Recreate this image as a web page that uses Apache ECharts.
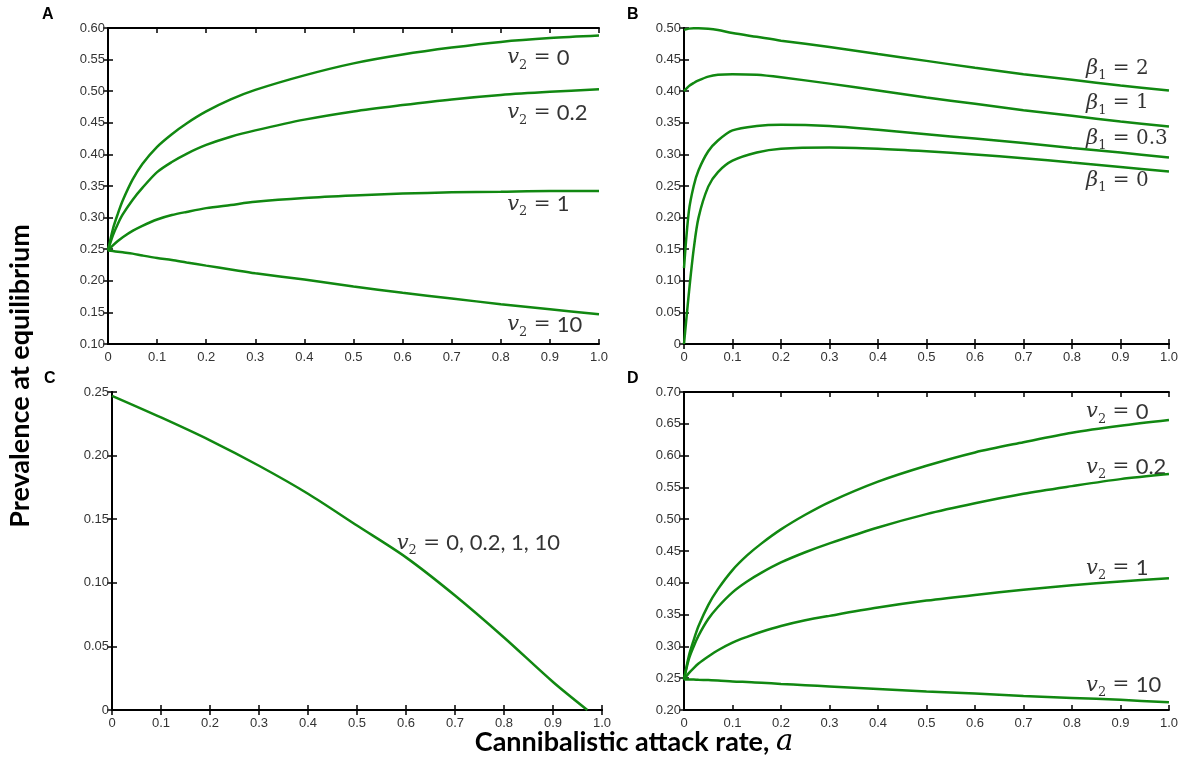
<!DOCTYPE html>
<html>
<head>
<meta charset="utf-8">
<script src="https://cdn.jsdelivr.net/npm/echarts@6/dist/echarts.min.js"></script>
<style>
  html, body { margin: 0; background: #fff; }
  #chart { width: 1181px; height: 762px; }
</style>
</head>
<body>
<div id="chart"></div>
<script>
// attack rate sample points
const aGrid = [0, 0.01, 0.02, 0.03, 0.05, 0.07, 0.1, 0.13, 0.16, 0.2, 0.25, 0.3, 0.4, 0.5, 0.6, 0.7, 0.8, 0.9, 1.0]
const aFine = [0, 0.01, 0.02, 0.03, 0.05, 0.07, 0.1, 0.15, 0.2, 0.3, 0.4, 0.5, 0.6, 0.7, 0.8, 0.9, 1.0]
const aPanelC = [0, 0.1, 0.2, 0.3, 0.4, 0.5, 0.6, 0.7, 0.8, 0.9, 0.97]

// panel A
const aV0 = [0.248, 0.282, 0.306, 0.327, 0.36, 0.385, 0.412, 0.432, 0.449, 0.468, 0.487, 0.502, 0.525, 0.544, 0.558, 0.569, 0.578, 0.584, 0.588]
const aV02 = [0.248, 0.272, 0.29, 0.305, 0.328, 0.347, 0.372, 0.388, 0.401, 0.415, 0.428, 0.438, 0.455, 0.468, 0.478, 0.487, 0.494, 0.499, 0.503]
const aV1 = [0.248, 0.256, 0.263, 0.269, 0.279, 0.287, 0.297, 0.304, 0.309, 0.315, 0.320, 0.325, 0.331, 0.335, 0.338, 0.340, 0.341, 0.342, 0.342]
const aV10 = [0.248, 0.247, 0.246, 0.245, 0.243, 0.240, 0.236, 0.233, 0.229, 0.224, 0.218, 0.212, 0.202, 0.191, 0.181, 0.172, 0.163, 0.155, 0.147]

// panel B
const bB2 = [0.497, 0.499, 0.4995, 0.4995, 0.499, 0.497, 0.492, 0.486, 0.480, 0.470, 0.459, 0.448, 0.437, 0.427, 0.418, 0.409, 0.401]
const bB1 = [0.400, 0.408, 0.413, 0.417, 0.423, 0.426, 0.427, 0.426, 0.422, 0.412, 0.401, 0.390, 0.380, 0.370, 0.361, 0.352, 0.344]
const bB03 = [0.12, 0.21, 0.25, 0.275, 0.305, 0.322, 0.338, 0.345, 0.347, 0.345, 0.339, 0.332, 0.325, 0.318, 0.310, 0.303, 0.295]
const bB0 = [0, 0.08, 0.15, 0.20, 0.249, 0.272, 0.29, 0.303, 0.309, 0.311, 0.309, 0.305, 0.300, 0.294, 0.287, 0.280, 0.273]

// panel C (all v2 values fall on one curve)
const cAll = [0.247, 0.230, 0.212, 0.192, 0.170, 0.145, 0.120, 0.090, 0.057, 0.022, 0]

// panel D
const dV0 = [0.248, 0.285, 0.31, 0.332, 0.365, 0.39, 0.42, 0.443, 0.462, 0.484, 0.507, 0.527, 0.559, 0.584, 0.605, 0.621, 0.636, 0.647, 0.656]
const dV02 = [0.248, 0.28, 0.30, 0.317, 0.343, 0.362, 0.385, 0.402, 0.416, 0.432, 0.448, 0.462, 0.487, 0.508, 0.525, 0.540, 0.552, 0.563, 0.571]
const dV1 = [0.248, 0.258, 0.266, 0.273, 0.284, 0.294, 0.306, 0.315, 0.323, 0.332, 0.341, 0.348, 0.361, 0.372, 0.381, 0.389, 0.396, 0.402, 0.407]
const dV10 = [0.248, 0.248, 0.2478, 0.2475, 0.247, 0.2465, 0.245, 0.244, 0.243, 0.241, 0.239, 0.237, 0.233, 0.229, 0.226, 0.222, 0.219, 0.216, 0.212]

// y ranges per panel: [min, max, step]
const yRanges = [[0.10, 0.60, 0.05], [0, 0.50, 0.05], [0, 0.25, 0.05], [0.20, 0.70, 0.05]]

// curve labels: [panel, x, y, symbol, value]
const curveLabels = [
  [0, 0.812, 0.553, 'v', '0'], [0, 0.812, 0.466, 'v', '0.2'], [0, 0.812, 0.321, 'v', '1'], [0, 0.812, 0.130, 'v', '10'],
  [1, 0.828, 0.436, 'b', '2'], [1, 0.828, 0.381, 'b', '1'], [1, 0.828, 0.325, 'b', '0.3'], [1, 0.828, 0.259, 'b', '0'],
  [2, 0.58, 0.131, 'v', '0, 0.2, 1, 10'],
  [3, 0.828, 0.669, 'v', '0'], [3, 0.828, 0.582, 'v', '0.2'], [3, 0.828, 0.423, 'v', '1'], [3, 0.828, 0.239, 'v', '10']
]

const grids = [
  { left: 108, top: 28, width: 491, height: 316 },
  { left: 684, top: 28, width: 490, height: 316 },
  { left: 112, top: 392, width: 490, height: 318 },
  { left: 684, top: 392, width: 490, height: 318 }
]

const GREEN = '#118811'
const axisLine = { show: true, lineStyle: { color: '#000', width: 2 } }
const tick = { show: true, inside: true, length: 5, lineStyle: { color: '#000', width: 1.5 } }
const tickLabel = { fontFamily: 'Liberation Sans', fontSize: 13, color: '#333' }

const xAxis = []
const yAxis = []
grids.forEach((g, i) => {
  const [ymin, ymax, ystep] = yRanges[i]
  xAxis.push({
    type: 'value', gridIndex: i, min: 0, max: 1, interval: 0.1, position: 'bottom',
    axisLine, axisTick: tick, splitLine: { show: false },
    axisLabel: { ...tickLabel, margin: 7, formatter: v => v === 0 ? '0' : v.toFixed(1) }
  })
  xAxis.push({
    type: 'value', gridIndex: i, min: 0, max: 1, interval: 0.1, position: 'top',
    axisLine, axisTick: tick, splitLine: { show: false }, axisLabel: { show: false }
  })
  yAxis.push({
    type: 'value', gridIndex: i, min: ymin, max: ymax, interval: ystep, position: 'left',
    axisLine, axisTick: tick, splitLine: { show: false },
    axisLabel: { ...tickLabel, margin: 3, formatter: v => Math.abs(v) < 1e-9 ? '0' : v.toFixed(2) }
  })
  yAxis.push({
    type: 'value', gridIndex: i, min: ymin, max: ymax, interval: ystep, position: 'right',
    axisLine, axisTick: tick, splitLine: { show: false }, axisLabel: { show: false }
  })
})

function curve(panel, xs, ys) {
  return {
    type: 'line', xAxisIndex: panel * 2, yAxisIndex: panel * 2,
    data: xs.map((x, k) => [x, ys[k]]),
    smooth: 0.3, showSymbol: false, silent: true,
    lineStyle: { color: GREEN, width: 2.5 }
  }
}

const series = [
  curve(0, aGrid, aV0), curve(0, aGrid, aV02), curve(0, aGrid, aV1), curve(0, aGrid, aV10),
  curve(1, aFine, bB2), curve(1, aFine, bB1), curve(1, aFine, bB03), curve(1, aFine, bB0),
  curve(2, aPanelC, cAll),
  curve(3, aGrid, dV0), curve(3, aGrid, dV02), curve(3, aGrid, dV1), curve(3, aGrid, dV10)
]

const rich = {
  v: { fontFamily: 'DejaVu Serif', fontStyle: 'italic', fontSize: 21, color: '#000', lineHeight: 28 },
  s: { fontFamily: 'DejaVu Serif', fontSize: 13, color: '#000', lineHeight: 13, verticalAlign: 'bottom' },
  e: { fontFamily: 'DejaVu Serif', fontSize: 20, color: '#000', lineHeight: 28 },
  n: { fontFamily: 'Lato', fontSize: 22, color: '#000', lineHeight: 28 },
  ns: { fontFamily: 'DejaVu Serif', fontSize: 20, color: '#000', lineHeight: 28 }
}

grids.forEach((g, i) => {
  const items = curveLabels.filter(l => l[0] === i)
  series.push({
    type: 'scatter', xAxisIndex: i * 2, yAxisIndex: i * 2, silent: true,
    symbolSize: 1, itemStyle: { color: 'rgba(0,0,0,0)' },
    data: items.map(l => [l[1], l[2], l[3], l[4]]),
    label: {
      show: true, position: 'right', distance: 0,
      formatter: p => {
        const [, , sym, val] = p.data
        if (sym === 'b') return `{v|β}{s|1}{e| = }{ns|${val}}`
        return `{v|v}{s|2}{e| = }{n|${val}}`
      },
      rich
    }
  })
})

const letterFont = 'bold 16px "Liberation Sans"'
const graphic = [
  { type: 'text', left: 42, top: 7, style: { text: 'A', font: letterFont, fill: '#000' } },
  { type: 'text', left: 627, top: 7, style: { text: 'B', font: letterFont, fill: '#000' } },
  { type: 'text', left: 44, top: 371, style: { text: 'C', font: letterFont, fill: '#000' } },
  { type: 'text', left: 627, top: 371, style: { text: 'D', font: letterFont, fill: '#000' } },
  {
    type: 'text', x: 20, y: 376, rotation: Math.PI / 2,
    style: { text: 'Prevalence at equilibrium', font: 'bold 27px Lato', fill: '#000', align: 'center', verticalAlign: 'middle' }
  },
  {
    type: 'text', x: 634, y: 742,
    style: {
      text: '{t|Cannibalistic attack rate, }{a|a}',
      align: 'center', verticalAlign: 'middle',
      rich: {
        t: { font: 'bold 27px Lato', fill: '#000' },
        a: { font: 'italic 29px "DejaVu Serif"', fill: '#000' }
      }
    }
  }
]

const chart = echarts.init(document.getElementById('chart'))
chart.setOption({
  animation: false,
  backgroundColor: '#fff',
  grid: grids.map(g => ({ ...g, show: false })),
  xAxis, yAxis, series, graphic
})
</script>
</body>
</html>
